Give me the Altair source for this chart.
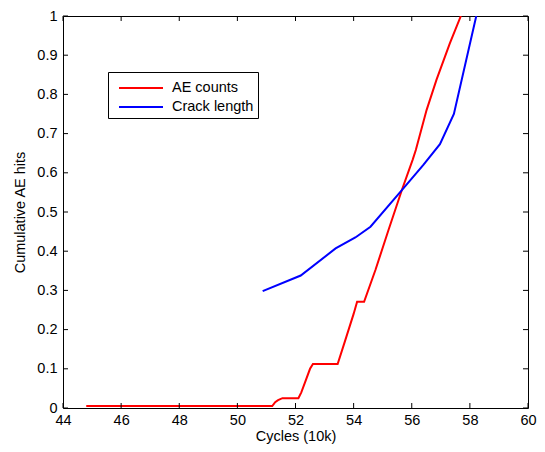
import altair as alt
import pandas as pd

ae_x = [44.8, 51.2, 51.3, 51.4, 51.55, 52.1, 52.2, 52.35, 52.5, 52.6, 53.45, 53.7, 54.0,
        54.12, 54.36, 54.75, 55.2, 55.66, 56.03, 56.14, 56.51, 56.85, 57.31, 57.69]
ae_y = [0.005, 0.005, 0.015, 0.02, 0.025, 0.025, 0.04, 0.07, 0.1, 0.112, 0.112, 0.17, 0.24,
        0.271, 0.271, 0.352, 0.454, 0.556, 0.633, 0.658, 0.760, 0.837, 0.930, 1.0]

crack_x = [50.87, 52.18, 53.38, 54.06, 54.58, 55.66, 56.4, 56.97, 57.45, 58.22]
crack_y = [0.298, 0.338, 0.407, 0.435, 0.4625, 0.556, 0.62, 0.673, 0.75, 1.0]

series_names = ["AE counts", "Crack length"]
series_colors = ["#ff0000", "#0000ff"]

x_ticks = [44, 46, 48, 50, 52, 54, 56, 58, 60]
y_ticks = [0, 0.1, 0.2, 0.3, 0.4, 0.5, 0.6, 0.7, 0.8, 0.9, 1.0]

W, H = 465, 392
FONT = "Liberation Sans"
FS = 14.5

df = pd.DataFrame(
    {"x": ae_x + crack_x,
     "y": ae_y + crack_y,
     "series": [series_names[0]] * len(ae_x) + [series_names[1]] * len(crack_x),
     "order": list(range(len(ae_x))) + list(range(len(crack_x)))}
)

xs = alt.Scale(domain=[44, 60], nice=False, zero=False)
ys = alt.Scale(domain=[0, 1], nice=False)

x_axis = alt.Axis(values=x_ticks, title="Cycles (10k)", ticks=False, grid=False,
                  domain=False, labelPadding=5, titlePadding=3, format="~g",
                  labelOverlap=False, labelFlush=False)
y_axis = alt.Axis(values=y_ticks, title="Cumulative AE hits", ticks=False, grid=False,
                  domain=False, labelPadding=6, titlePadding=9, format="~g",
                  labelOverlap=False, labelFlush=False)

lines = alt.Chart(df).mark_line(strokeWidth=2, clip=True).encode(
    x=alt.X("x:Q", scale=xs, axis=x_axis),
    y=alt.Y("y:Q", scale=ys, axis=y_axis),
    color=alt.Color("series:N",
                    scale=alt.Scale(domain=series_names, range=series_colors),
                    legend=alt.Legend(title=None, orient="none", legendX=45, legendY=56,
                                      symbolType="M-2,0L2,0", symbolSize=484,
                                      symbolStrokeWidth=2, labelFontSize=FS,
                                      labelFont=FONT, strokeColor="black",
                                      fillColor="white", padding=4, rowPadding=0,
                                      symbolOffset=17, labelOffset=19,
                                      labelColor="black")),
    order="order:Q",
)

xt = pd.DataFrame({"v": x_ticks})
yt = pd.DataFrame({"v": y_ticks})

tb = alt.Chart(xt).mark_rule(color="black", strokeWidth=1).encode(
    x=alt.X("v:Q", scale=xs, axis=x_axis), y=alt.value(H), y2=alt.value(H - 5))
tt = alt.Chart(xt).mark_rule(color="black", strokeWidth=1).encode(
    x=alt.X("v:Q", scale=xs, axis=x_axis), y=alt.value(0), y2=alt.value(5))
tl = alt.Chart(yt).mark_rule(color="black", strokeWidth=1).encode(
    y=alt.Y("v:Q", scale=ys, axis=y_axis), x=alt.value(0), x2=alt.value(5))
tr = alt.Chart(yt).mark_rule(color="black", strokeWidth=1).encode(
    y=alt.Y("v:Q", scale=ys, axis=y_axis), x=alt.value(W), x2=alt.value(W - 5))

chart = alt.layer(lines, tb, tt, tl, tr).properties(
    width=W, height=H,
    autosize=alt.AutoSizeParams(type="none"),
    padding={"left": 55, "top": 8, "right": 9, "bottom": 36},
).configure_view(
    stroke="black", strokeWidth=1
).configure_axis(
    labelFont=FONT, titleFont=FONT, labelFontSize=FS, titleFontSize=FS,
    titleFontWeight="normal", labelColor="black", titleColor="black"
)

chart.save("out.html", embed_options={"renderer": "svg", "actions": False})
